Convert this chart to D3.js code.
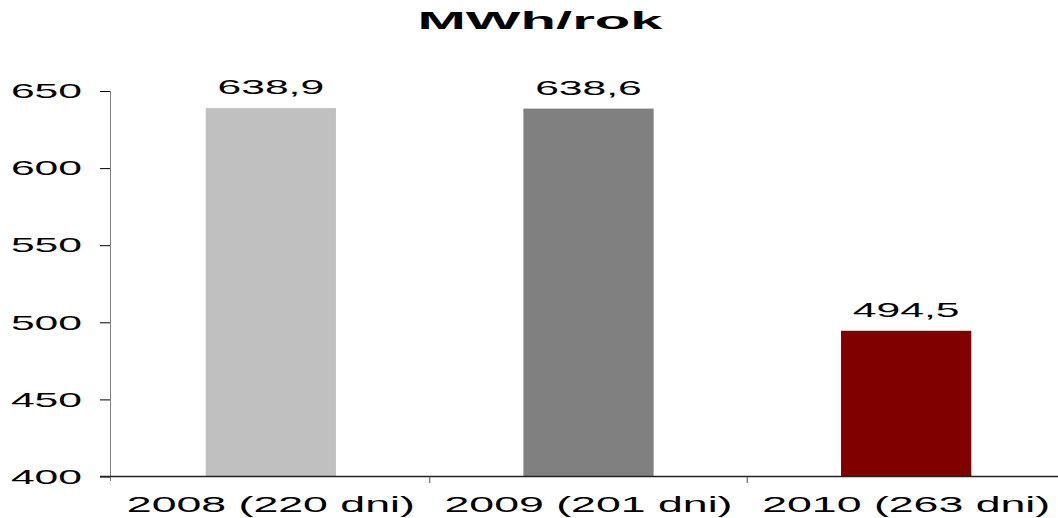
<!DOCTYPE html>
<html><head><meta charset="utf-8">
<script src="https://cdn.jsdelivr.net/npm/d3@7"></script>
<style>
html,body{margin:0;padding:0;background:#fff;}
svg{display:block;font-family:"Liberation Sans",Arial,sans-serif;}
</style></head>
<body>
<svg id="c" width="1058" height="518"></svg>
<script>
const title = "MWh/rok";
const categories = ["2008 (220 dni)", "2009 (201 dni)", "2010 (263 dni)"];
const values = [638.9, 638.6, 494.5];
const valueLabels = ["638,9", "638,6", "494,5"];
const barColors = ["#C0C0C0", "#808080", "#800000"];
const yTicks = [400, 450, 500, 550, 600, 650];

const svg = d3.select("#c");
const x = d3.scaleBand().domain(categories).range([112, 1065]).paddingInner(0).paddingOuter(0);
const y = d3.scaleLinear().domain([400, 650]).range([476.5, 91]);
const barW = x.bandwidth() * 0.41;
const SX = 2.03;

function stretch(sel, sx) {
  sel.attr("transform", function() {
    const tx = +this.getAttribute("x"), ty = +this.getAttribute("y");
    return `translate(${tx},${ty}) scale(${sx},1) translate(${-tx},${-ty})`;
  });
}

// title
svg.append("text").attr("x", 540).attr("y", 29).attr("text-anchor", "middle")
  .attr("font-size", 24).attr("font-weight", "bold").text(title)
  .call(stretch, 2.42);

// bars
svg.selectAll("rect.bar").data(categories).join("rect").attr("class", "bar")
  .attr("x", d => x(d) + x.bandwidth() / 2 - barW / 2)
  .attr("width", barW)
  .attr("y", (d, i) => y(values[i]))
  .attr("height", (d, i) => y(400) - y(values[i]))
  .attr("fill", (d, i) => barColors[i]);

// value labels
svg.selectAll("text.val").data(categories).join("text").attr("class", "val")
  .attr("x", d => x(d) + x.bandwidth() / 2)
  .attr("y", (d, i) => y(values[i]) - 14)
  .attr("text-anchor", "middle").attr("font-size", 21).attr("fill", "#000")
  .text((d, i) => valueLabels[i])
  .each(function() { d3.select(this).call(stretch, SX); });

// y axis
const yAxis = d3.axisLeft(y).tickValues(yTicks).tickSize(10).tickPadding(18).tickFormat(d3.format("d"));
const gy = svg.append("g").attr("transform", "translate(110,0)").call(yAxis);
gy.select(".domain").remove();
gy.selectAll(".tick line").attr("stroke", "#000");
gy.selectAll(".tick text").attr("font-size", 21).attr("fill", "#000")
  .attr("font-family", "Liberation Sans, Arial, sans-serif")
  .each(function() {
    const t = d3.select(this);
    t.attr("transform", `scale(${SX},1)`).attr("x", -28 / SX);
  });
svg.append("line").attr("x1", 110.5).attr("x2", 110.5).attr("y1", y(650)).attr("y2", 481)
  .attr("stroke", "#808080").attr("stroke-width", 1);

// x axis
svg.append("line").attr("x1", 100).attr("x2", 1058).attr("y1", 476.5).attr("y2", 476.5)
  .attr("stroke", "#222").attr("stroke-width", 1.5);
svg.selectAll("line.xt").data(categories.slice(1)).join("line").attr("class", "xt")
  .attr("x1", d => x(d)).attr("x2", d => x(d)).attr("y1", 477).attr("y2", 483)
  .attr("stroke", "#808080").attr("stroke-width", 1.5);
svg.selectAll("text.cat").data(categories).join("text").attr("class", "cat")
  .attr("x", d => x(d) + x.bandwidth() / 2).attr("y", 512)
  .attr("text-anchor", "middle").attr("font-size", 22).attr("fill", "#000")
  .text(d => d)
  .each(function() { d3.select(this).call(stretch, SX); });
</script>
</body></html>
